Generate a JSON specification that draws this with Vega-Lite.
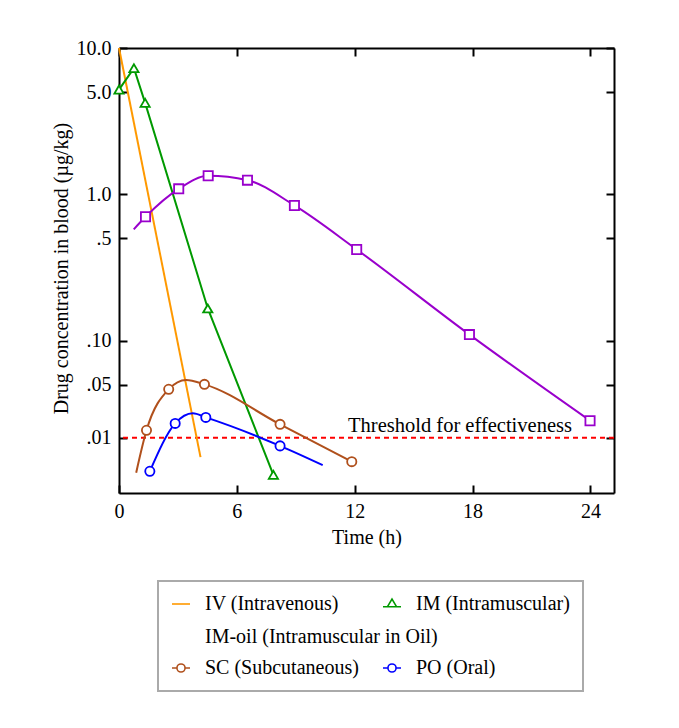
{
  "$schema": "https://vega.github.io/schema/vega-lite/v6.json",
  "autosize": {"type": "none"},
  "padding": {"left": 119, "top": 48, "right": 65, "bottom": 235},
  "width": 495,
  "height": 445,
  "background": "white",
  "config": {
    "font": "Liberation Serif",
    "view": {"stroke": null},
    "axis": {
      "grid": false,
      "domainColor": "black",
      "domainWidth": 2,
      "tickColor": "black",
      "tickWidth": 2,
      "tickSize": -8,
      "labelPadding": 16,
      "labelFont": "Liberation Serif",
      "labelFontSize": 20,
      "labelColor": "black",
      "titleFont": "Liberation Serif",
      "titleFontSize": 20,
      "titleFontWeight": "normal",
      "titleColor": "black",
      "labelFlush": false,
      "labelOverlap": false,
      "zindex": 1
    },
    "legend": {
      "labelFont": "Liberation Serif",
      "labelFontSize": 20,
      "labelColor": "black",
      "labelOffset": 14,
      "labelLimit": 400,
      "symbolSize": 324,
      "symbolStrokeWidth": 1.6
    }
  },
  "datasets": {
    "curves": [
      {"series": "IV (Intravenous)", "t": 0, "c": 10, "marker": false},
      {"series": "IV (Intravenous)", "t": 4.15, "c": 0.016, "marker": false},
      {"series": "IM (Intramuscular)", "t": 0, "c": 5.2, "marker": true},
      {"series": "IM (Intramuscular)", "t": 0.76, "c": 7.28, "marker": true},
      {"series": "IM (Intramuscular)", "t": 1.33, "c": 4.22, "marker": true},
      {"series": "IM (Intramuscular)", "t": 4.52, "c": 0.166, "marker": true},
      {"series": "IM (Intramuscular)", "t": 7.86, "c": 0.0121, "marker": true},
      {"series": "IM-oil (Intramuscular in Oil)", "t": 0.75, "c": 0.576, "marker": false},
      {"series": "IM-oil (Intramuscular in Oil)", "t": 1.35, "c": 0.702, "marker": true},
      {"series": "IM-oil (Intramuscular in Oil)", "t": 3.04, "c": 1.09, "marker": true},
      {"series": "IM-oil (Intramuscular in Oil)", "t": 4.54, "c": 1.34, "marker": true},
      {"series": "IM-oil (Intramuscular in Oil)", "t": 6.54, "c": 1.25, "marker": true},
      {"series": "IM-oil (Intramuscular in Oil)", "t": 8.93, "c": 0.84, "marker": true},
      {"series": "IM-oil (Intramuscular in Oil)", "t": 12.1, "c": 0.42, "marker": true},
      {"series": "IM-oil (Intramuscular in Oil)", "t": 17.84, "c": 0.11, "marker": true},
      {"series": "IM-oil (Intramuscular in Oil)", "t": 23.98, "c": 0.0284, "marker": true},
      {"series": "SC (Subcutaneous)", "t": 0.875, "c": 0.01253, "marker": false},
      {"series": "SC (Subcutaneous)", "t": 1.4, "c": 0.0244, "marker": true},
      {"series": "SC (Subcutaneous)", "t": 2.53, "c": 0.0465, "marker": true},
      {"series": "SC (Subcutaneous)", "t": 3.42, "c": 0.0538, "marker": false},
      {"series": "SC (Subcutaneous)", "t": 4.35, "c": 0.0503, "marker": true},
      {"series": "SC (Subcutaneous)", "t": 8.2, "c": 0.0268, "marker": true},
      {"series": "SC (Subcutaneous)", "t": 11.85, "c": 0.0149, "marker": true},
      {"series": "PO (Oral)", "t": 1.57, "c": 0.0128, "marker": true},
      {"series": "PO (Oral)", "t": 2.86, "c": 0.0272, "marker": true},
      {"series": "PO (Oral)", "t": 3.76, "c": 0.0319, "marker": false},
      {"series": "PO (Oral)", "t": 4.42, "c": 0.0299, "marker": true},
      {"series": "PO (Oral)", "t": 8.2, "c": 0.0191, "marker": true},
      {"series": "PO (Oral)", "t": 10.37, "c": 0.0141, "marker": false}
    ],
    "threshold": [
      {"c": 0.0217, "labelT": 23.06, "label": "Threshold for effectiveness"}
    ]
  },
  "layer": [
    {
      "data": {"name": "threshold"},
      "mark": {"type": "rule", "color": "#ff0000", "strokeWidth": 2, "strokeDash": [5, 4]},
      "encoding": {
        "y": {"field": "c", "type": "quantitative", "scale": {"type": "log", "domain": [0.0091, 10], "nice": false}, "axis": null}
      }
    },
    {
      "data": {"name": "threshold"},
      "mark": {"type": "text", "align": "right", "baseline": "alphabetic", "dy": -6, "fontSize": 20.5, "color": "black", "font": "Liberation Serif"},
      "encoding": {
        "x": {"field": "labelT", "type": "quantitative", "scale": {"domain": [0, 25.2], "nice": false}, "axis": null},
        "y": {"field": "c", "type": "quantitative", "scale": {"type": "log", "domain": [0.0091, 10], "nice": false}, "axis": null},
        "text": {"field": "label"}
      }
    },
    {
      "data": {"name": "curves"},
      "transform": [{"filter": {"field": "series", "oneOf": ["IV (Intravenous)", "IM (Intramuscular)"]}}],
      "mark": {"type": "line", "strokeWidth": 2, "interpolate": "linear"},
      "encoding": {
        "x": {"field": "t", "type": "quantitative", "scale": {"domain": [0, 25.2], "nice": false},
          "axis": {"orient": "bottom", "values": [0, 6, 12, 18, 24], "title": "Time (h)", "titleY": 44, "titleBaseline": "middle"}},
        "y": {"field": "c", "type": "quantitative", "scale": {"type": "log", "domain": [0.0091, 10], "nice": false},
          "axis": {"orient": "left", "values": [10, 5, 1, 0.5, 0.1, 0.05, 0.0217],
            "labelExpr": "datum.value >= 9 ? '10.0' : datum.value >= 4 ? '5.0' : datum.value >= 0.9 ? '1.0' : datum.value >= 0.4 ? '.5' : datum.value >= 0.09 ? '.10' : datum.value >= 0.04 ? '.05' : '.01'",
            "title": "Drug concentration in blood (µg/kg)", "titleX": -57.5, "titleY": 220, "titleBaseline": "middle", "titleAlign": "center"}},
        "color": {"field": "series", "type": "nominal",
          "scale": {"domain": ["IV (Intravenous)", "IM (Intramuscular)", "IM-oil (Intramuscular in Oil)", "SC (Subcutaneous)", "PO (Oral)"],
                    "range": ["#ff9900", "#009900", "#9900cc", "#b0501c", "#0000ff"]},
          "legend": {
            "title": null, "orient": "none", "legendX": 39, "legendY": 533,
            "values": ["IV (Intravenous)", "IM (Intramuscular)", "SC (Subcutaneous)", "PO (Oral)"],
            "direction": "horizontal",
            "columns": 2, "gridAlign": "each", "columnPadding": 20, "rowPadding": 44,
            "padding": 13, "fillColor": "white", "strokeColor": "#aaaaaa",
            "encode": {
              "legend": {"update": {"strokeWidth": {"value": 2}}},
              "symbols": {"update": {
              "shape": {"signal": "datum.value === 'IV (Intravenous)' ? 'M-1,0H1' : datum.value === 'IM (Intramuscular)' ? 'M-1,0.3H1M-0.5,0.3L0,-0.55L0.5,0.3Z' : 'M-1,0H-0.45M0.45,0H1M-0.45,0A0.45,0.45,0,1,0,0.45,0A0.45,0.45,0,1,0,-0.45,0Z'"},
              "fill": {"value": "transparent"}
            }}}
          }},
        "order": {"field": "t"}
      }
    },
    {
      "data": {"name": "curves"},
      "transform": [{"filter": {"field": "series", "oneOf": ["IM-oil (Intramuscular in Oil)", "SC (Subcutaneous)", "PO (Oral)"]}}],
      "mark": {"type": "line", "strokeWidth": 2, "interpolate": "monotone"},
      "encoding": {
        "x": {"field": "t", "type": "quantitative", "scale": {"domain": [0, 25.2], "nice": false},
          "axis": {"orient": "top", "values": [0, 6, 12, 18, 24], "labels": false, "title": null}},
        "y": {"field": "c", "type": "quantitative", "scale": {"type": "log", "domain": [0.0091, 10], "nice": false},
          "axis": {"orient": "right", "values": [10, 5, 1, 0.5, 0.1, 0.05, 0.0217], "labels": false, "title": null}},
        "color": {"field": "series", "type": "nominal"},
        "order": {"field": "t"}
      }
    },
    {
      "data": {"name": "curves"},
      "transform": [{"filter": {"field": "marker", "equal": true}}],
      "mark": {"type": "point", "filled": false, "color": "#9900cc", "fill": "white", "fillOpacity": 1, "opacity": 1, "strokeWidth": 1.8, "size": 85},
      "encoding": {
        "x": {"field": "t", "type": "quantitative", "scale": {"domain": [0, 25.2], "nice": false}, "axis": null},
        "y": {"field": "c", "type": "quantitative", "scale": {"type": "log", "domain": [0.0091, 10], "nice": false}, "axis": null},
        "color": {"field": "series", "type": "nominal"},
        "shape": {"field": "series", "type": "nominal",
          "scale": {"domain": ["IM (Intramuscular)", "IM-oil (Intramuscular in Oil)", "SC (Subcutaneous)", "PO (Oral)"],
                    "range": ["triangle-up", "square", "circle", "circle"]},
          "legend": {
            "title": null, "orient": "none", "legendX": 52, "legendY": 579, "zindex": 2,
            "values": ["IM-oil (Intramuscular in Oil)"],
            "padding": 0,
            "symbolStrokeColor": "#9900cc",
            "symbolFillColor": "transparent",
            "symbolOpacity": 1,
            "symbolSize": 324,
            "symbolStrokeWidth": 1.6,
            "encode": {"symbols": {"update": {
              "shape": {"signal": "'M-1,0H-0.4M0.4,0H1M-0.4,-0.4H0.4V0.4H-0.4Z'"},
              "fill": {"value": "transparent"},
              "stroke": {"value": "#9900cc"},
              "strokeWidth": {"value": 1.6},
              "opacity": {"value": 1}
            }}}
          }}
      }
    }
  ],
  "resolve": {"axis": {"x": "independent", "y": "independent"}}
}
